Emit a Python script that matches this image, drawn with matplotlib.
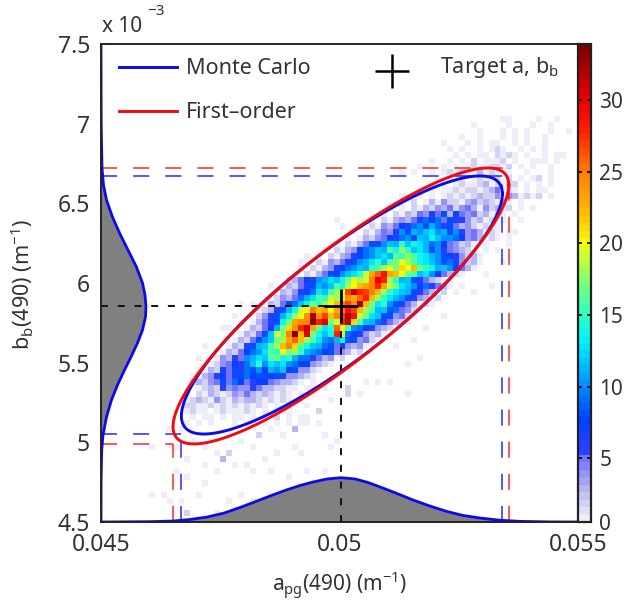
import numpy as np
import matplotlib
matplotlib.use("Agg")
import matplotlib.pyplot as plt
from matplotlib.colors import LinearSegmentedColormap

FONT = "Noto Sans"
plt.rcParams["font.family"] = FONT
plt.rcParams["mathtext.fontset"] = "custom"
plt.rcParams["mathtext.rm"] = FONT
plt.rcParams["mathtext.default"] = "regular"
TXT = "#333333"

# ---- data --------------------------------------------------------------
x_ticks = [0.045, 0.05, 0.055]
x_tick_labels = ["0.045", "0.05", "0.055"]
y_ticks = [4.5, 5, 5.5, 6, 6.5, 7, 7.5]
y_tick_labels = ["4.5", "5", "5.5", "6", "6.5", "7", "7.5"]
cbar_labels = [0, 5, 10, 15, 20, 25, 30]

target_a = 0.05003
target_b = 5.858

# Ellipses: centre, half extents, correlation
mc_ellipse = dict(cx=0.05005, cy=5.862, sx=0.003365, sy=0.810, rho=0.86)
fo_ellipse = dict(cx=0.05003, cy=5.856, sx=0.00352, sy=0.866, rho=0.875)

# Marginal profile along the bottom
bottom_a = [.04500, .04603, .04651, .04687, .04722, .047579, .047914, .048249, .048543, .048857, .049172, .049444,
            .049738, .050031, .050325, .050597, .050849, .051205, .051541, .051897, .052254, .052589, .052945,
            .053364, .053784, .054413, .05500]
bottom_b = [4.5, 4.502, 4.506, 4.516, 4.531, 4.556, 4.591, 4.629, 4.663, 4.698, 4.729, 4.751,
            4.770, 4.778, 4.770, 4.748, 4.720, 4.679, 4.638, 4.600, 4.566, 4.541, 4.525,
            4.511, 4.504, 4.5006, 4.5]
# Marginal profile along the left side
left_b = [7.5, 7.0, 6.722, 6.615, 6.521, 6.414, 6.314, 6.207, 6.100, 6.0, 5.925, 5.856, 5.787, 5.705, 5.623,
          5.536, 5.454, 5.36, 5.266, 5.159, 5.046, 4.952, 4.764, 4.5]
left_a = [.045, .045004, .045021, .045052, .045115, .045241, .045388, .045566, .045744, .04587, .045922,
          .045943, .045933, .04587, .045765, .045629, .045493, .045346, .04522, .045115, .045042, .045015,
          .045002, .045]

# Histogram: 80 x 80 bins; rows counted from the top, first row = 12.
# Each char is a count in base 36, '.' = empty; heat_starts gives the first column.
heat_first_row = 12
heat_starts = [67, 62, 63, 60, 57, 58, 59, 55, 53, 50, 56, 55, 53, 50, 50, 48, 47, 45, 43, 42, 41, 39, 37, 36,
               34, 33, 32, 31, 30, 29, 28, 27, 26, 26, 25, 24, 23, 22, 21, 20, 19, 18, 17, 15, 15, 16, 14, 14,
               14, 14, 15, 14]
heat_rows = [
    "1.....1..1",
    "1.....1...1..1",
    "1...1.1.1...1..1",
    "1..1...1.1.1..1",
    "1...1.1.11..1.1..1",
    "1.1..1.121..1.1.1",
    "1.1.11.2121.1..1.1",
    "1..1.1.2.1112.1..1.1.1",
    "1...1.1.12112212.1.1..1",
    "1.1..1.1212113121.1..1...1",
    "1.1.1.1211212.1.12.1",
    "1.1.12112312122.1.1.1",
    "1.1.1121221235121.1.1",
    "1..1.1.12121232241431212.1",
    "1.2.131422134232131.1",
    "1.1.21324352453142312.1",
    "1.2132546583754523121.1",
    "1.2134356979586642312.1",
    "1.21435769a8b968534212.1",
    "1.213546a8bacdab8a6453121.1",
    "1.13245769a8cbecaa97453121.1",
    "1.213586acbfcedb9a754231.1",
    "1.213479acbgeifcdb8a654321.1",
    "1.2134679acdbgfigedba8764231",
    "1.2143568abdfcghkigedca8964231",
    "1.2134679acbfgikhlkmhfebca7531",
    "1.213587acdfjnqtnmkhgcda75321",
    "23576abdcehkijpusifbc8653211",
    "132568bacgeikmnpsnjhdca796531",
    "1324679dcgikrvsrpmifdcb865312",
    "124359bdgfjikonqsmifdba864312",
    "132579cehfikmprowmhdfa865312",
    "12368bejkpmnknptrmigbc895421",
    "2468beikowormprwtjhdc884521",
    "13568ehnopxsuhjsvlgcb965321",
    "13257bhlosvnhdfqkga9764321",
    "13258cjipymuhecesj9764231",
    "13258achinqmigda9be884521",
    "13268bcgimplgecb985743411",
    "132579adgfkhifba97854312",
    "14365abdcghefb99653412",
    "1245769cfadcda9774321",
    "132658698a7bac784421",
    "113467568978878644321",
    "2324585975677543321.1",
    "12326454465332211.1",
    "1.2132124353232121.1.1",
    "123214213233212121.1",
    "22112121212121.1.1",
    "1211.1211121.1.1.1",
    "1.11.1.11.1.1.2.1.1",
    "1.1.1...1.11.1.1.1..1.1",
]
# scattered single cells outside the dense band
extra_cols = [39, 40, 38, 34, 33, 28, 23, 25, 22, 21, 23, 16, 17, 20, 16, 63, 60, 65, 57, 54, 55, 59, 52, 49, 53,
              51, 48, 44, 46, 41, 41, 43, 51, 36, 38, 35, 33, 32, 31, 34, 37, 33, 34, 30, 32, 30, 28, 26, 25, 24,
              23, 21, 20, 19, 22, 27, 29, 25, 28, 32, 33, 37, 38, 34, 37, 39, 31, 33, 14, 19, 16, 17, 12, 10, 8,
              21, 23, 13, 28, 19, 14, 23, 11, 14, 12, 8, 13, 11, 15, 17, 17, 25, 27, 35, 30, 71, 72, 69, 68, 66,
              67, 64, 62, 75, 77, 73, 74, 70, 68]
extra_rows = [29, 30, 33, 35, 36, 40, 43, 43, 45, 47, 46, 52, 50, 47, 54, 36, 40, 40, 45, 47, 43, 41, 49, 50, 52,
              53, 56, 56, 56, 57, 58, 58, 58, 61, 59, 57, 59, 57, 60, 60, 57, 63, 62, 61, 64, 65, 64, 65, 67, 70,
              66, 68, 69, 68, 70, 69, 68, 71, 71, 67, 68, 65, 67, 71, 71, 66, 72, 75, 78, 78, 75, 73, 71, 75, 75,
              76, 75, 76, 75, 71, 72, 78, 76, 69, 67, 67, 64, 64, 66, 67, 70, 76, 77, 75, 77, 23, 27, 31, 33, 34,
              36, 38, 41, 14, 18, 19, 24, 29, 12]
extra_vals = [1, 1, 1, 1, 1, 1, 1, 1, 1, 1, 1, 1, 1, 1, 1, 1, 1, 1, 1, 1, 1, 1, 1, 1, 1,
              1, 1, 1, 1, 2, 2, 1, 1, 2, 1, 1, 1, 1, 1, 1, 1, 1, 1, 1, 3, 1, 1, 2, 1, 1,
              1, 2, 3, 1, 1, 1, 1, 1, 1, 1, 1, 1, 1, 1, 1, 1, 1, 1, 2, 1, 1, 1, 1, 1, 1,
              1, 1, 1, 1, 1, 1, 1, 1, 1, 1, 1, 1, 1, 1, 1, 1, 1, 1, 1, 1, 1, 1, 1, 1, 1,
              1, 1, 1, 1, 1, 1, 1, 1, 1]

cmap_values = [0.55, 2, 3.5, 4.9, 5.1, 7.5, 10, 13, 15, 17, 20, 22, 25, 28, 30, 33.9]
cmap_colors = ["#eeeefa", "#c8c8f0", "#9a9af8", "#7070ff", "#3040ff", "#0040ff", "#0090ff", "#00f0ff",
               "#30ffc0", "#70ff80", "#f0ff10", "#ffc000", "#ff8000", "#ff2000", "#f00000", "#800000"]

# ---- build ---------------------------------------------------------------
N = 80
grid = np.zeros((N, N))
for i, (s, row) in enumerate(zip(heat_starts, heat_rows)):
    rt = heat_first_row + i
    for j, ch in enumerate(row):
        if ch != "." and s + j < N:
            grid[N - 1 - rt, s + j] = int(ch, 36)
for c, r, v in zip(extra_cols, extra_rows, extra_vals):
    if grid[N - 1 - r, c] == 0:
        grid[N - 1 - r, c] = v

vmin, vmax = cmap_values[0], cmap_values[-1]
pos = [(v - vmin) / (vmax - vmin) for v in cmap_values]
cmap = LinearSegmentedColormap.from_list("whitejet", list(zip(pos, cmap_colors)), N=64)
cmap.set_under("white")

W, H = 626, 605
fig = plt.figure(figsize=(W / 100, H / 100), dpi=100)
L, R, T, B = 101, 578, 44, 522
ax = fig.add_axes([L / W, 1 - B / H, (R - L) / W, (B - T) / H])
cax = fig.add_axes([R / W, 1 - B / H, 13 / W, (B - T) / H])

a_edges = np.linspace(0.045, 0.055, N + 1)
b_edges = np.linspace(4.5, 7.5, N + 1)
mesh = ax.pcolormesh(a_edges, b_edges, grid, cmap=cmap, vmin=vmin, vmax=vmax, zorder=1, rasterized=True)

ax.fill_between(bottom_a, 4.5, bottom_b, color="#808080", lw=0, zorder=2)
ax.fill_betweenx(left_b, 0.045, left_a, color="#808080", lw=0, zorder=2)


def ellipse(e):
    t = np.linspace(0, 2 * np.pi, 400)
    phi = np.arccos(e["rho"])
    return e["cx"] + e["sx"] * np.cos(t), e["cy"] + e["sy"] * np.cos(t - phi)


def guides(e, color):
    xl, xr = e["cx"] - e["sx"], e["cx"] + e["sx"]
    yb, yt = e["cy"] - e["sy"], e["cy"] + e["sy"]
    kw = dict(color=color, lw=1.3, alpha=0.8, dashes=(8.9, 8.9), dash_capstyle="butt", zorder=3)
    ax.plot([0.045, xr], [yt, yt], **kw)
    ax.plot([0.045, xl], [yb, yb], **kw)
    ax.plot([xr, xr], [4.5, yt], **kw)
    ax.plot([xl, xl], [4.5, yb], **kw)


guides(mc_ellipse, "#1a1aff")
guides(fo_ellipse, "#ff1a1a")

kw = dict(color="#111111", lw=1.4, dashes=(3.6, 5), dash_capstyle="butt", zorder=4)
ax.plot([0.045, target_a], [target_b, target_b], **kw)
ax.plot([target_a, target_a], [4.5, target_b], **kw)

ax.plot(bottom_a, bottom_b, color="#0a0aee", lw=2.0, zorder=5, solid_joinstyle="round")
ax.plot(left_a, left_b, color="#0a0aee", lw=2.0, zorder=5, solid_joinstyle="round")
ax.plot(*ellipse(mc_ellipse), color="#0a0aee", lw=2.1, zorder=5)
ax.plot(*ellipse(fo_ellipse), color="#f00a0a", lw=2.1, zorder=6)
ax.plot([target_a], [target_b], marker="+", ms=24, mew=2.0, color="black", zorder=7)

# legend
tr = ax.transAxes
lx0, lx1 = (119 - L) / (R - L), (177 - L) / (R - L)
ax.plot([lx0, lx1], [1 - 23 / 478] * 2, color="#0a0aee", lw=2.1, transform=tr, zorder=8)
ax.plot([lx0, lx1], [1 - 67 / 478] * 2, color="#f00a0a", lw=2.1, transform=tr, zorder=8)
ax.plot([(392 - L) / (R - L)], [1 - 27 / 478], marker="+", ms=25, mew=1.8, color="black", transform=tr, zorder=8)
tkw = dict(transform=tr, fontsize=15.5, color=TXT, va="center", ha="left", zorder=8)
ax.text((186 - L) / (R - L), 1 - 24 / 478, "Monte Carlo", **tkw)
ax.text((186 - L) / (R - L), 1 - 68 / 478, "First\u2013order", **tkw)
ax.text((440 - L) / (R - L), 1 - 24 / 478, "Target a, b$_{b}$", **tkw)

ax.set_xlim(0.045, 0.055)
ax.set_ylim(4.5, 7.5)
ax.set_xticks(x_ticks, x_tick_labels)
ax.set_yticks(y_ticks, y_tick_labels)
ax.tick_params(length=0, labelsize=16.5, labelcolor=TXT, pad=8)
for s in ax.spines.values():
    s.set_linewidth(1.4)
    s.set_color("#222222")
    s.set_zorder(9)
ax.spines["right"].set_visible(False)

ax.set_xlabel("a$_{pg}$(490) (m$^{-1}$)", fontsize=15, color=TXT, labelpad=9)
ax.set_ylabel("b$_{b}$(490) (m$^{-1}$)", fontsize=15.5, color=TXT)
ax.yaxis.set_label_coords((36 - L) / (R - L), (B - 285) / (B - T))
fig.text(102 / W, 1 - 32 / H, "x 10", fontsize=15, color=TXT, ha="left", va="baseline")
fig.text(147 / W, 1 - 15 / H, "\u22123", fontsize=11, color=TXT, ha="left", va="baseline")

cb = fig.colorbar(mesh, cax=cax)
cb.set_ticks([vmin] + cbar_labels[1:], labels=[str(v) for v in cbar_labels])
cb.ax.tick_params(length=3, width=1.2, direction="in", labelsize=15, labelcolor=TXT, pad=6, right=True, left=True)
cb.outline.set_linewidth(1.6)
cb.outline.set_edgecolor("#222222")

fig.savefig("out.png", dpi=100)
